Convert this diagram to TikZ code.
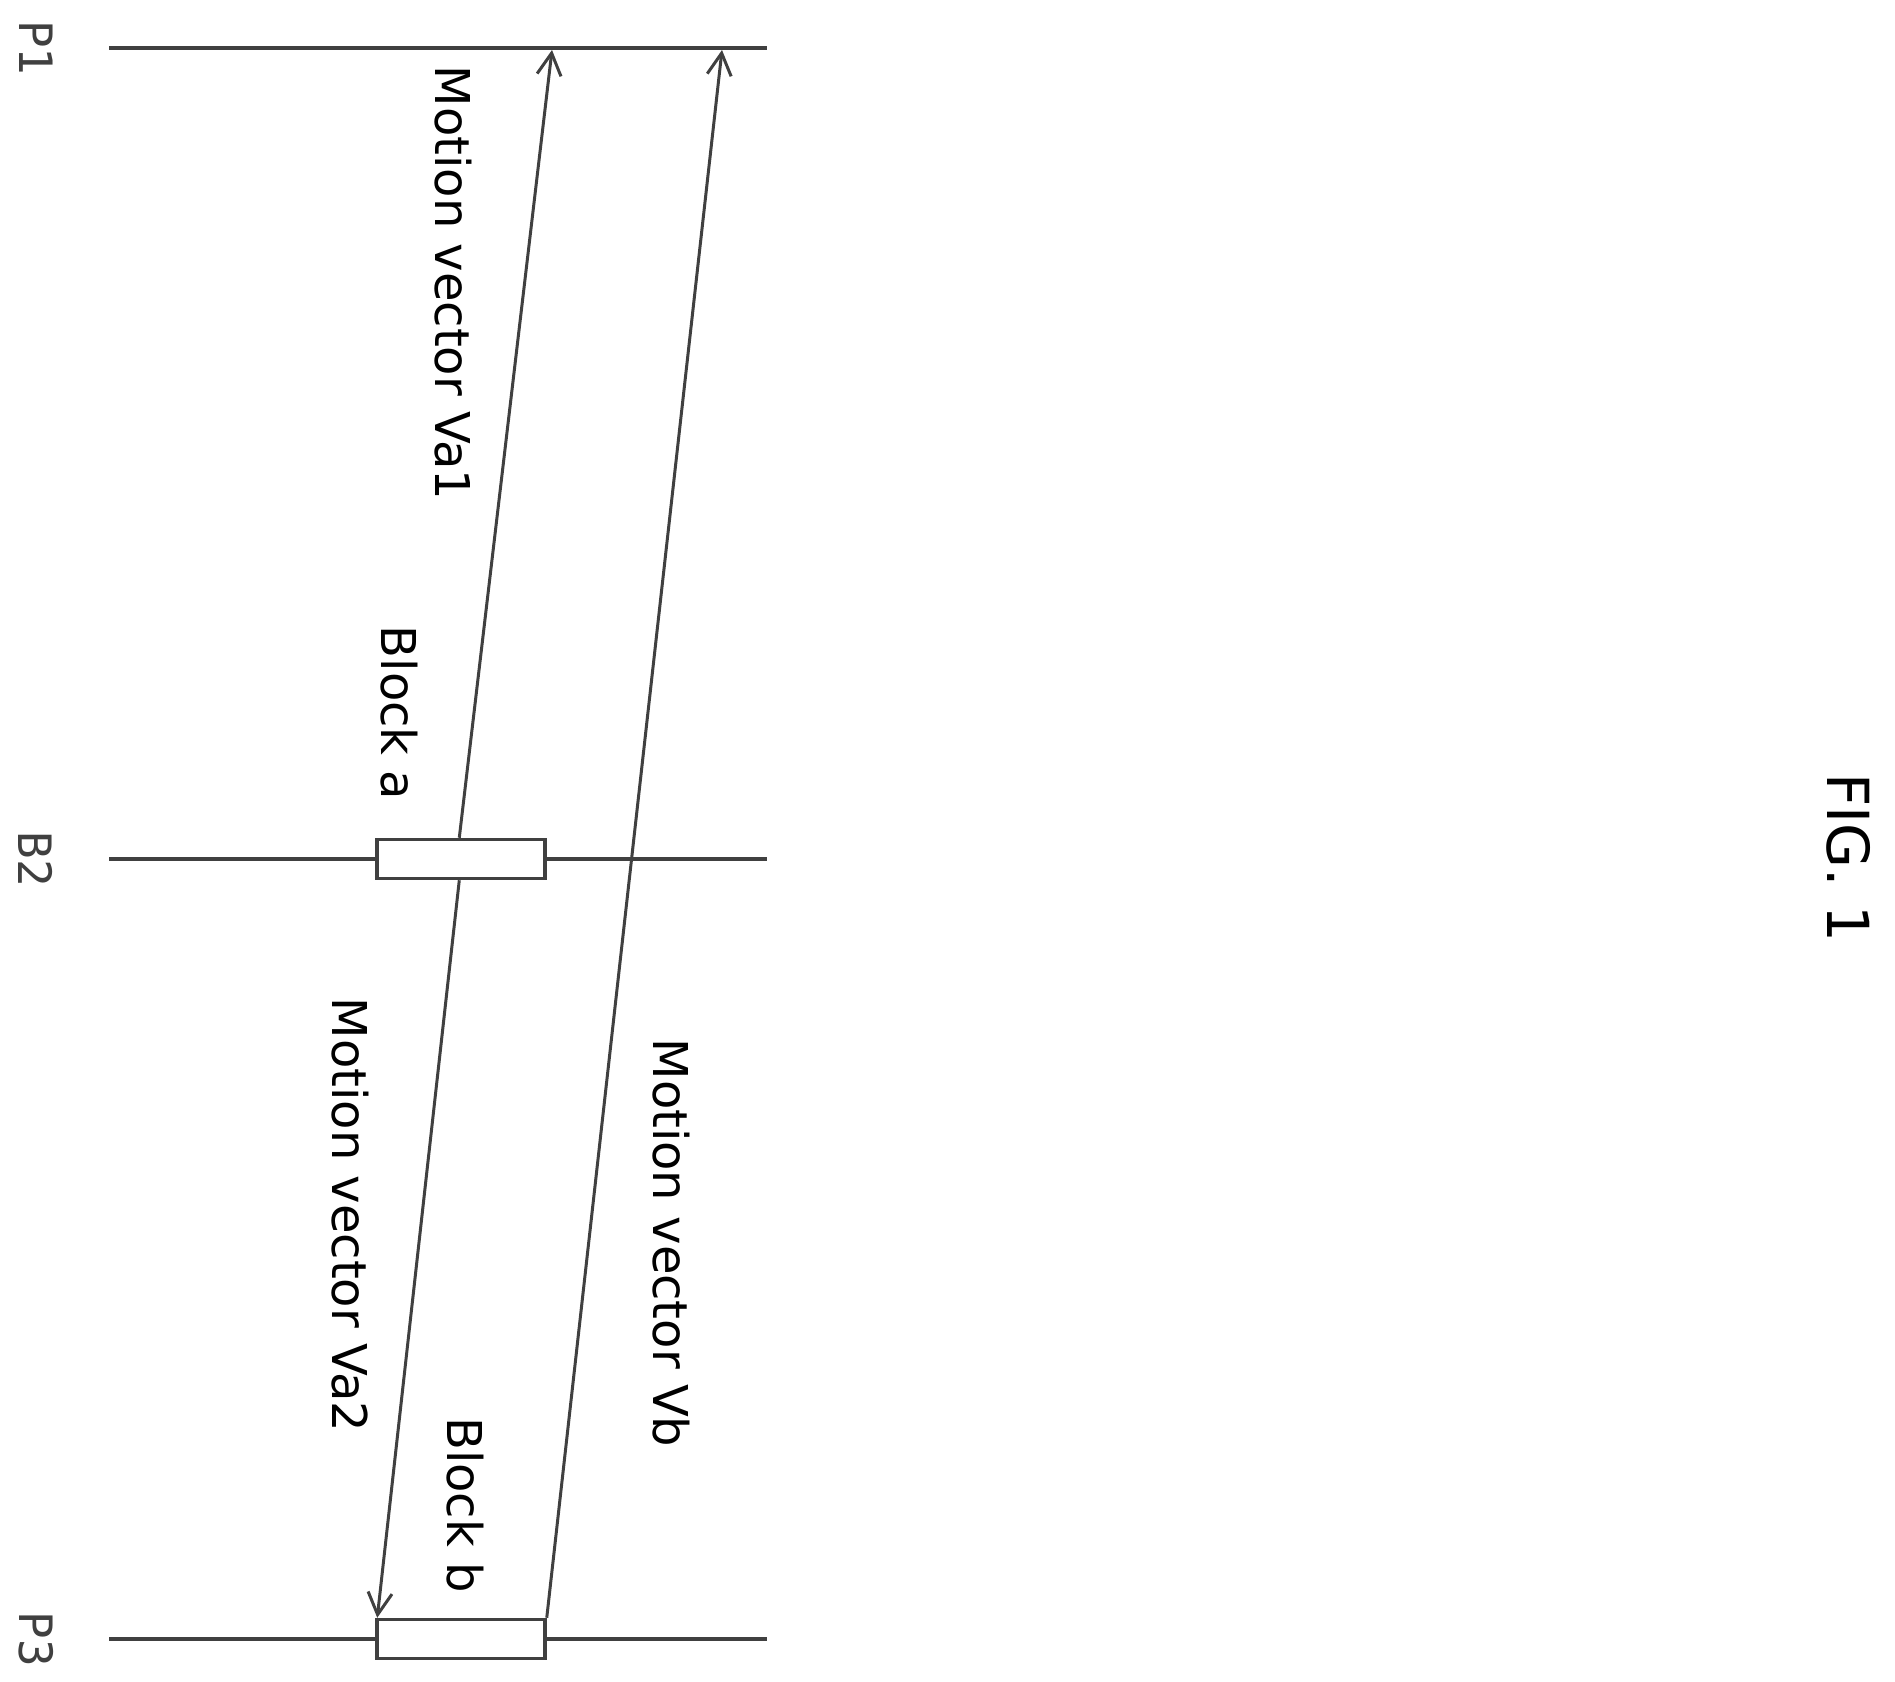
\documentclass[tikz,border=0pt]{standalone}
\usepackage{fontspec}
\setmainfont{DejaVu Sans}
\newfontfamily\labelfont{DejaVu Sans Mono}
\usetikzlibrary{arrows.meta, positioning, calc}
\tikzset{
  frame_line/.style={line width=3.5pt, color=black!75},
  block_box/.style={draw=black!75, fill=white, line width=3.5pt, minimum width=168pt, minimum height=39pt, inner sep=0pt},
  mv_arrow/.style={line width=3pt, color=black!75, -{Straight Barb[length=22pt, width=24pt, line width=3pt]}},
  mv_label/.style={font=\fontsize{48}{56}\selectfont, rotate=-90},
  frame_label/.style={font=\labelfont\fontsize{46}{52}\selectfont, rotate=-90, color=black!75}
}
\begin{document}
\begin{tikzpicture}[x=1pt, y=-1pt]
\useasboundingbox (0,0) rectangle (1895,1681);
% frames
\coordinate (p1_left) at (109,48);
\coordinate (p1_right) at (767,48);
\coordinate (b2_left) at (109,859);
\coordinate (b2_right) at (767,859);
\coordinate (p3_left) at (109,1639);
\coordinate (p3_right) at (767,1639);
\draw[frame_line] (p1_left) -- (p1_right);
\draw[frame_line] (b2_left) -- (b2_right);
\draw[frame_line] (p3_left) -- (p3_right);
\node[frame_label] (label_p1) at (36,48) {P1};
\node[frame_label] (label_b2) at (36,859) {B2};
\node[frame_label] (label_p3) at (36,1639) {P3};
% blocks
\node[block_box] (block_a) at (461,859) {};
\node[block_box] (block_b) at (461,1639) {};
\coordinate (va1_end) at (552,50);
\coordinate (vb_end) at (722,50);
% motion vectors
\draw[mv_arrow] ($(block_a.north west)!0.49!(block_a.north east)$) -- (va1_end);
\draw[mv_arrow] ($(block_a.south west)!0.49!(block_a.south east)$) -- ($(block_b.north west)+(2,0)$);
\draw[mv_arrow] (block_b.north east) -- (vb_end);
\node[mv_label] (text_va1) at (453,283) {Motion vector Va1};
\node[mv_label] (text_block_a) at (399,713) {Block a};
\node[mv_label] (text_va2) at (350,1215) {Motion vector Va2};
\node[mv_label] (text_vb) at (671,1243) {Motion vector Vb};
\node[mv_label] (text_block_b) at (465,1505) {Block b};
\node[font=\fontsize{58}{66}\selectfont, rotate=-90] (fig_title) at (1849,858) {FIG. 1};
\end{tikzpicture}
\end{document}
